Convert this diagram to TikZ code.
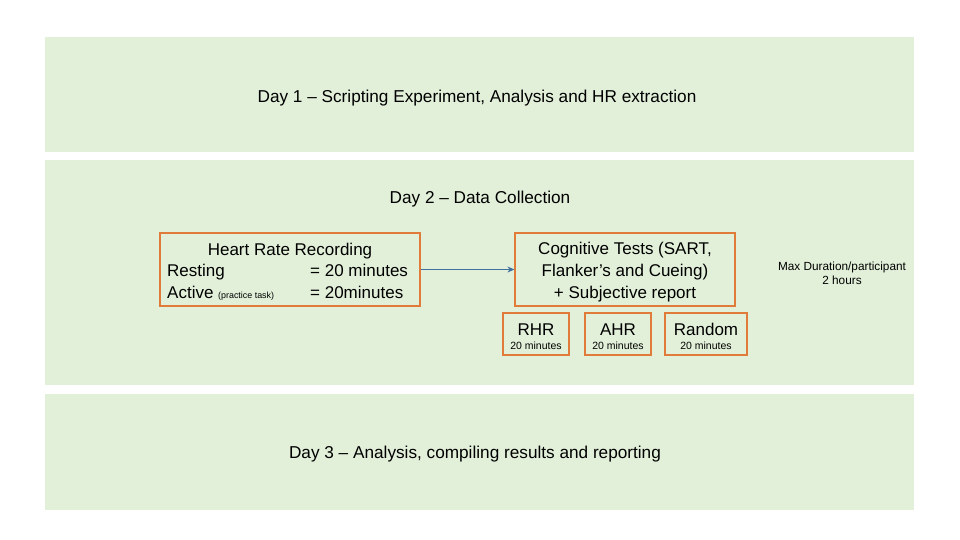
\documentclass[tikz,border=0pt]{standalone}
\usepackage{fontspec}
\setmainfont{Liberation Sans}
\usepackage{xcolor}
\usetikzlibrary{arrows.meta}
\usetikzlibrary{positioning}

\definecolor{bandgreen}{HTML}{E2F0D9}
\definecolor{boxorange}{HTML}{E07B39}
\definecolor{arrowblue}{HTML}{41719C}

\tikzset{
  band/.style={fill=bandgreen, draw=none},
  obox/.style={draw=boxorange, line width=1.2pt, inner sep=0pt},
  bigtext/.style={font=\fontsize{17.2}{20}\selectfont, yshift=-2pt},
  boxtext/.style={font=\fontsize{17}{22}\selectfont, inner sep=0pt, yshift=-2pt},
  rowtext/.style={font=\fontsize{17}{22}\selectfont, inner sep=0pt, anchor=base west},
  tinytext/.style={font=\fontsize{10.5}{12}\selectfont, inner sep=0pt},
}

\begin{document}
\begin{tikzpicture}[x=1pt, y=-1pt]

      \useasboundingbox (0,0) rectangle (960,540);

      % the three days
      \fill[band] (45,37) rectangle (914,152);
      \fill[band] (45,160) rectangle (914,385);
      \fill[band] (45,394) rectangle (914,510);

      \node[bigtext] (day1) at (477,96) {Day 1 -- Scripting Experiment, Analysis and HR extraction};
      \node[bigtext] (day2) at (480,197) {Day 2 -- Data Collection};
      \node[bigtext] (day3) at (475,452) {Day 3 -- Analysis, compiling results and reporting};

      % heart rate recording
      \node[obox, minimum width=260, minimum height=73] (hr) at (290,269.5) {};
      \node[boxtext] (hrtitle) at (290,249) {Heart Rate Recording};
      \node[rowtext] (rest) at (167,276) {Resting};
      \node[rowtext] (act) at (167,298) {Active \fontsize{8.9}{10}\selectfont(practice task)};
      \node[rowtext] (restmin) at (310,276) {= 20 minutes};
      \node[rowtext] (actmin) at (310,298) {= 20minutes};

      % cognitive tests
      \node[obox, minimum width=220, minimum height=73] (cog) at (625,269.5) {};
      \node[boxtext, align=center] (cogt) at (625,270)
        {Cognitive Tests (SART,\\Flanker's and Cueing)\\+ Subjective report};

      \draw[-{Stealth[length=7pt,width=6pt]}, arrowblue, line width=0.9pt] (hr.east) -- (cog.west);

      % conditions
      \foreach \name/\lab/\cx/\w in {rhr/RHR/536/66, ahr/AHR/618/66, rnd/Random/706/82} {
        \node[obox, minimum width=\w, minimum height=42] (\name) at (\cx,334) {};
        \node[rowtext, anchor=base] (\name t) at (\cx,335) {\lab};
        \node[tinytext] (\name m) at (\cx,346) {20 minutes};
      }

      \node[tinytext, align=center, font=\fontsize{11.8}{14}\selectfont] (maxdur) at (842,273)
        {Max Duration/participant\\2 hours};

    \end{tikzpicture}
\end{document}
